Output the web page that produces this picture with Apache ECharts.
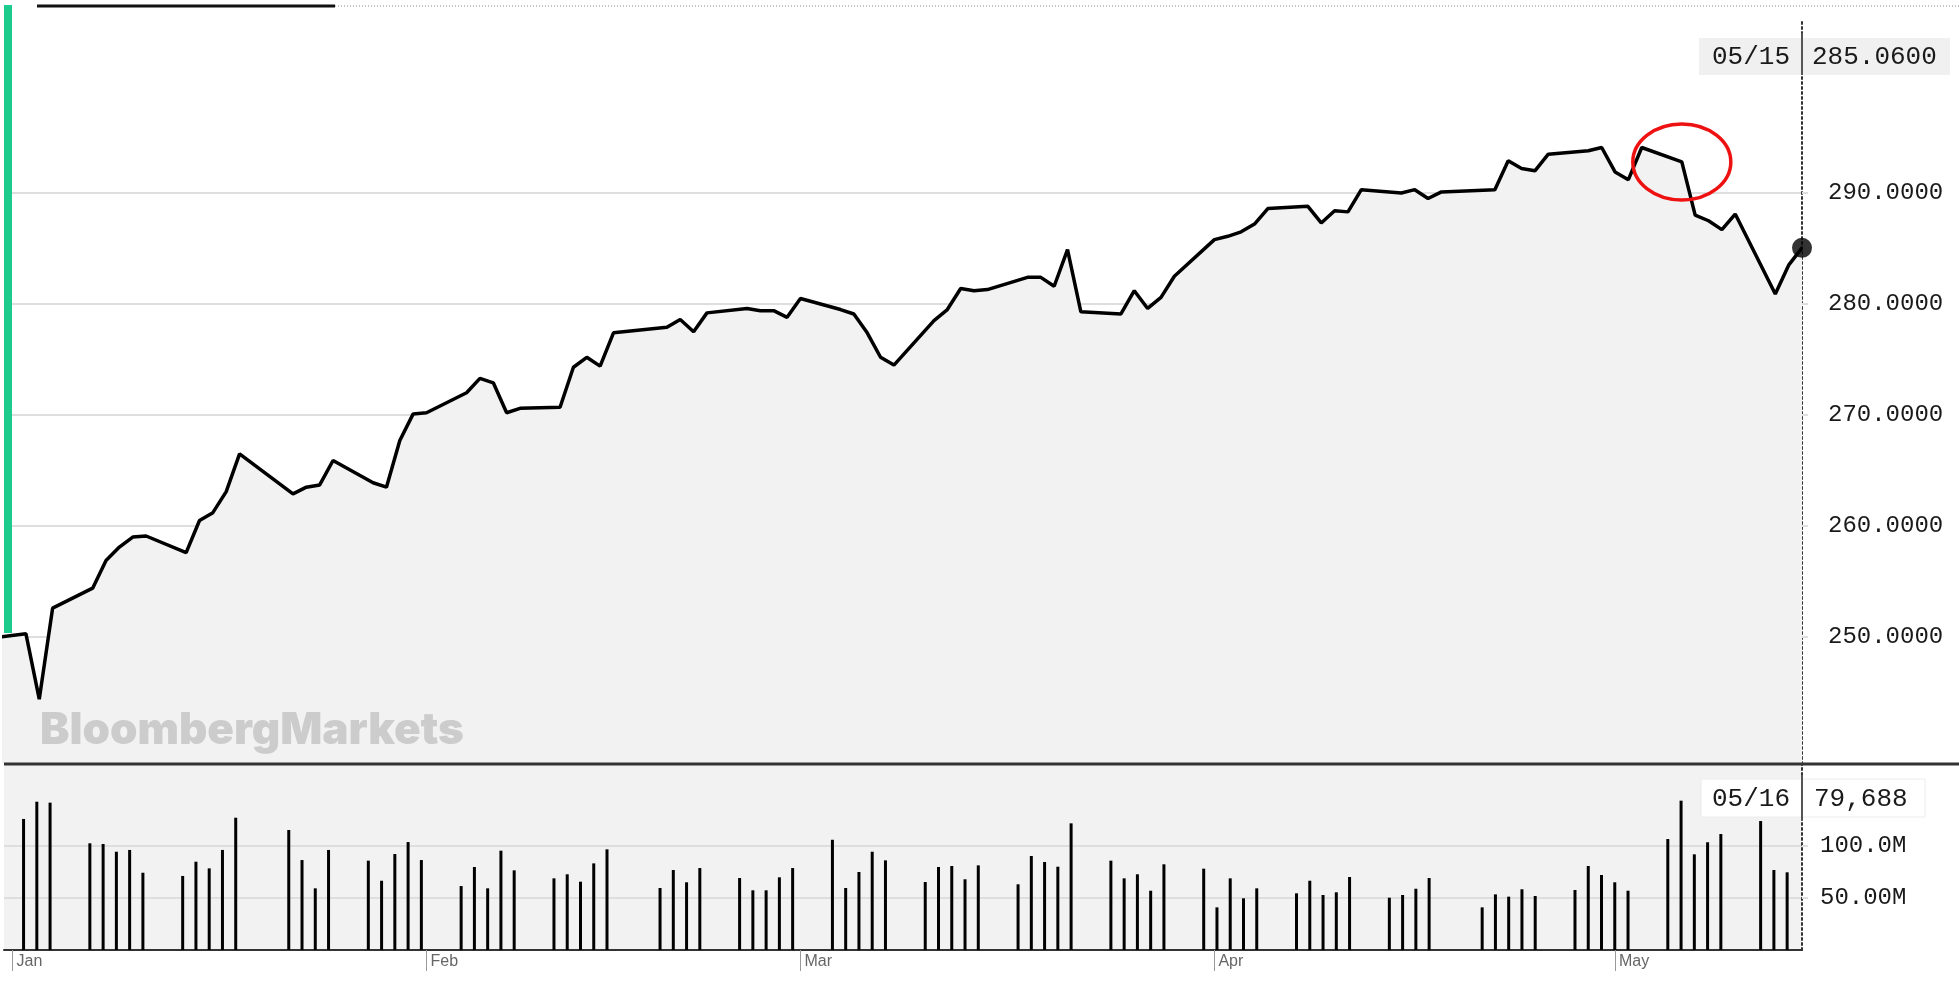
<!DOCTYPE html>
<html>
<head>
<meta charset="utf-8">
<script src="https://cdn.jsdelivr.net/npm/echarts@6/dist/echarts.min.js"></script>
<style>
  html, body { margin: 0; padding: 0; background: #fff; }
  #chart { width: 1959px; height: 984px; }
</style>
</head>
<body>
<div id="chart"></div>
<script>
// daily closes, first entry is the previous year-end close (left edge of the chart)
const dates = [
  '2018-12-31',
  '2019-01-02', '2019-01-03', '2019-01-04', '2019-01-07', '2019-01-08', '2019-01-09', '2019-01-10', '2019-01-11',
  '2019-01-14', '2019-01-15', '2019-01-16', '2019-01-17', '2019-01-18', '2019-01-22', '2019-01-23', '2019-01-24',
  '2019-01-25', '2019-01-28', '2019-01-29', '2019-01-30', '2019-01-31', '2019-02-01', '2019-02-04', '2019-02-05',
  '2019-02-06', '2019-02-07', '2019-02-08', '2019-02-11', '2019-02-12', '2019-02-13', '2019-02-14', '2019-02-15',
  '2019-02-19', '2019-02-20', '2019-02-21', '2019-02-22', '2019-02-25', '2019-02-26', '2019-02-27', '2019-02-28',
  '2019-03-01', '2019-03-04', '2019-03-05', '2019-03-06', '2019-03-07', '2019-03-08', '2019-03-11', '2019-03-12',
  '2019-03-13', '2019-03-14', '2019-03-15', '2019-03-18', '2019-03-19', '2019-03-20', '2019-03-21', '2019-03-22',
  '2019-03-25', '2019-03-26', '2019-03-27', '2019-03-28', '2019-03-29', '2019-04-01', '2019-04-02', '2019-04-03',
  '2019-04-04', '2019-04-05', '2019-04-08', '2019-04-09', '2019-04-10', '2019-04-11', '2019-04-12', '2019-04-15',
  '2019-04-16', '2019-04-17', '2019-04-18', '2019-04-22', '2019-04-23', '2019-04-24', '2019-04-25', '2019-04-26',
  '2019-04-29', '2019-04-30', '2019-05-01', '2019-05-02', '2019-05-03', '2019-05-06', '2019-05-07', '2019-05-08',
  '2019-05-09', '2019-05-10', '2019-05-13', '2019-05-14', '2019-05-15'
];
const closes = [
  250.0,
  250.3, 244.4, 252.6, 254.4, 256.9, 258.1, 259.0, 259.1,
  257.6, 260.5, 261.2, 263.1, 266.5, 262.9, 263.5, 263.7,
  265.9, 263.9, 263.5, 267.7, 270.1, 270.2, 272.0, 273.3,
  272.9, 270.2, 270.6, 270.7, 274.3, 275.2, 274.4, 277.4,
  277.9, 278.6, 277.5, 279.2, 279.6, 279.4, 279.4, 278.8,
  280.5, 279.5, 279.1, 277.4, 275.2, 274.5, 278.5, 279.5,
  281.4, 281.2, 281.3, 282.4, 282.4, 281.6, 284.9, 279.3,
  279.1, 281.2, 279.6, 280.6, 282.5, 285.8, 286.1, 286.5,
  287.2, 288.6, 288.8, 287.3, 288.4, 288.3, 290.3, 290.0,
  290.3, 289.5, 290.1, 290.3, 292.9, 292.2, 292.0, 293.5,
  293.8, 294.1, 291.9, 291.2, 294.1, 292.8, 288.0, 287.5,
  286.7, 288.1, 280.9, 283.5, 285.06
];
// volume in millions, one per trading day from 2019-01-02
const volumes = [
  126.0, 142.6, 141.7,
  102.6, 101.9, 94.5, 96.2, 74.3,
  71.2, 84.9, 78.5, 96.2, 127.2,
  115.4, 86.5, 59.3, 96.2,
  85.9, 66.6, 92.3, 103.8, 86.5,
  61.5, 79.8, 59.3, 95.5, 76.6,
  68.9, 72.8, 65.7, 83.3, 96.8,
  59.6, 76.9, 65.1, 78.8,
  69.2, 57.4, 57.4, 69.9, 78.8,
  106.0, 59.6, 75.0, 94.5, 86.2,
  65.4, 79.8, 80.8, 68.0, 81.4,
  63.2, 90.4, 84.6, 80.1, 121.8,
  85.9, 68.9, 72.8, 57.0, 82.4,
  78.2, 41.0, 68.9, 49.7, 59.3,
  54.5, 66.6, 52.9, 55.5, 70.2,
  50.3, 52.9, 58.9, 69.2,
  41.0, 53.5, 51.3, 58.4, 51.9,
  57.7, 80.8, 72.1, 65.1, 57.0,
  106.7, 143.6, 92.0, 103.6, 111.5,
  124.0, 76.9, 74.7
];
const priceTicks = [250, 260, 270, 280, 290];
const volumeTicks = [50, 100];
const monthStarts = ['2019-01-01', '2019-02-01', '2019-03-01', '2019-04-01', '2019-05-01'];
const monthNames = ['Jan', 'Feb', 'Mar', 'Apr', 'May'];
const volumeTipDate = '05/16';
const volumeTipValue = '79,688';
const markedDate = '2019-05-06';

const DAY = 864e5;
const ts = (s) => new Date(s + 'T00:00:00').getTime();
const jan1 = ts('2019-01-01');
const lastIdx = dates.length - 1;
const lastTs = ts(dates[lastIdx]);
const monthTs = monthStarts.map(ts);
const mono = '"Liberation Mono", "DejaVu Sans Mono", monospace';
const dotted = { type: [2, 3], color: '#333', width: 2 };

const chart = echarts.init(document.getElementById('chart'));

// x axes are plain value axes over timestamps so custom ticks work
chart.setOption({
  animation: false,
  grid: [
    { left: 4, right: 157, top: 20, height: 744 },
    { left: 4, right: 157, top: 764, height: 186, show: true, backgroundColor: '#f2f2f2', borderWidth: 0 }
  ],
  xAxis: [
    { type: 'value', gridIndex: 0, min: jan1 - 0.64 * DAY, max: lastTs, show: false },
    { type: 'value', gridIndex: 1, min: jan1 - 0.475 * DAY, max: jan1 + 135.12 * DAY, show: false },
    {
      type: 'value', gridIndex: 1, min: jan1 - 0.64 * DAY, max: lastTs, position: 'bottom',
      axisLine: { show: true, lineStyle: { color: '#333', width: 2 } },
      axisTick: { show: true, customValues: monthTs, length: 21, lineStyle: { color: '#999', width: 1 } },
      axisLabel: {
        customValues: monthTs,
        formatter: (v) => monthNames[monthTs.indexOf(v)] || '',
        align: 'left', verticalAlign: 'top', margin: 4, padding: [0, 0, 0, 4],
        fontFamily: '"Liberation Sans", Arial, sans-serif', fontSize: 16, color: '#666'
      },
      splitLine: { show: false }
    }
  ],
  yAxis: [
    {
      type: 'value', gridIndex: 0, position: 'right', min: 238.56, max: 305.585,
      axisLine: { show: true, lineStyle: dotted },
      axisTick: { show: true, customValues: priceTicks, length: 6, lineStyle: { color: '#dedede', width: 2 } },
      axisLabel: {
        customValues: priceTicks, formatter: (v) => v.toFixed(4), margin: 26,
        fontFamily: mono, fontSize: 24, color: '#1a1a1a'
      },
      splitLine: { show: true, lineStyle: { color: '#dedede', width: 2 } }
    },
    {
      type: 'value', gridIndex: 1, position: 'right', min: 0, max: 178.85,
      axisLine: { show: true, lineStyle: dotted },
      axisTick: { show: true, customValues: volumeTicks, length: 6, lineStyle: { color: '#dedede', width: 2 } },
      axisLabel: {
        customValues: volumeTicks, formatter: (v) => v.toPrecision(4) + 'M', margin: 18,
        fontFamily: mono, fontSize: 24, color: '#1a1a1a'
      },
      splitLine: { show: true, lineStyle: { color: '#dedede', width: 2 } }
    }
  ],
  series: [
    {
      type: 'line', xAxisIndex: 0, yAxisIndex: 0,
      data: dates.map((d, i) => [ts(d), closes[i]]),
      symbol: 'none',
      lineStyle: { color: '#000', width: 3.5 },
      areaStyle: { color: '#f2f2f2', opacity: 1, origin: 'start' },
      z: 3
    },
    {
      type: 'scatter', xAxisIndex: 0, yAxisIndex: 0,
      data: [[lastTs, closes[lastIdx]]],
      symbolSize: 20, itemStyle: { color: '#000' }, z: 5
    },
    {
      type: 'bar', xAxisIndex: 1, yAxisIndex: 1,
      data: dates.slice(1).map((d, i) => [ts(d), volumes[i]]),
      barWidth: 3, itemStyle: { color: '#000' }
    }
  ]
});

const [lx] = chart.convertToPixel({ xAxisIndex: 0, yAxisIndex: 0 }, [lastTs, closes[lastIdx]]);
const mi = dates.indexOf(markedDate);
const [mx, my] = chart.convertToPixel({ xAxisIndex: 0, yAxisIndex: 0 }, [ts(markedDate), closes[mi]]);
const tipDate = dates[lastIdx].slice(5, 7) + '/' + dates[lastIdx].slice(8, 10);
const tipFont = { fontFamily: mono, fontSize: 26, fill: '#1a1a1a', verticalAlign: 'middle' };

chart.setOption({
  graphic: [
    { type: 'line', shape: { x1: 37, y1: 6, x2: 335, y2: 6 }, style: { stroke: '#111', lineWidth: 3 }, z: 10 },
    { type: 'line', shape: { x1: 335, y1: 6, x2: 1959, y2: 6 }, style: { stroke: '#888', lineWidth: 1, lineDash: [1, 2] }, z: 10 },
    { type: 'rect', shape: { x: 4, y: 5, width: 8, height: 628 }, style: { fill: '#1ecb8e' }, z: 10 },
    { type: 'line', shape: { x1: 4, y1: 764, x2: 1959, y2: 764 }, style: { stroke: '#333', lineWidth: 3 }, z: 10 },
    {
      type: 'text', x: 40, y: 709, z: 10,
      style: { text: 'BloombergMarkets', fontFamily: 'Inter, "Liberation Sans", sans-serif', fontWeight: 900, fontSize: 44, fill: '#cccccc' }
    },
    // last price box
    { type: 'rect', shape: { x: lx - 103, y: 38, width: 251, height: 37 }, style: { fill: '#f0f0f0' }, z: 20 },
    { type: 'line', shape: { x1: lx, y1: 33, x2: lx, y2: 75 }, style: { stroke: '#555', lineWidth: 2 }, z: 21 },
    { type: 'text', x: lx - 12, y: 57, z: 21, style: Object.assign({ text: tipDate, align: 'right' }, tipFont) },
    { type: 'text', x: lx + 10, y: 57, z: 21, style: Object.assign({ text: closes[lastIdx].toFixed(4), align: 'left' }, tipFont) },
    // last volume box
    { type: 'rect', shape: { x: lx - 101, y: 779, width: 224, height: 38 }, style: { fill: '#fff', stroke: '#ececec', lineWidth: 1 }, z: 20 },
    { type: 'line', shape: { x1: lx, y1: 775, x2: lx, y2: 820 }, style: { stroke: '#555', lineWidth: 2 }, z: 21 },
    { type: 'text', x: lx - 12, y: 799, z: 21, style: Object.assign({ text: volumeTipDate, align: 'right' }, tipFont) },
    { type: 'text', x: lx + 12, y: 799, z: 21, style: Object.assign({ text: volumeTipValue, align: 'left' }, tipFont) },
    // red annotation ellipse
    { type: 'ellipse', shape: { cx: mx, cy: my, rx: 49, ry: 38 }, style: { fill: 'none', stroke: '#ee1111', lineWidth: 3.5 }, z: 15 }
  ]
});
</script>
</body>
</html>
